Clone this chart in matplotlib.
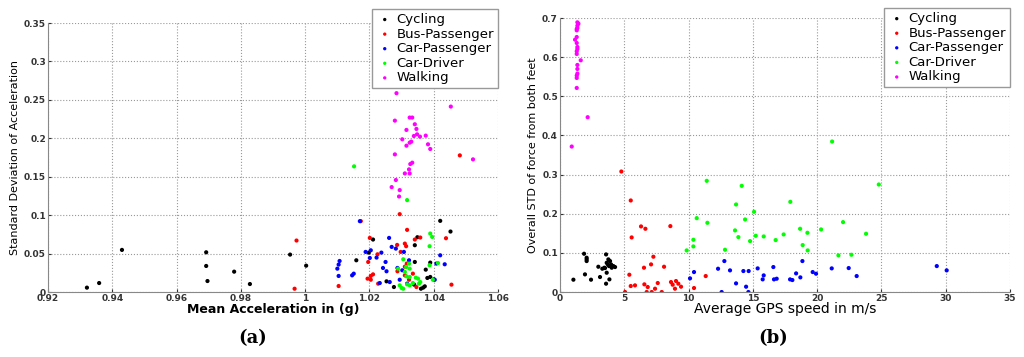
import numpy as np
import matplotlib
matplotlib.use('Agg')
import matplotlib.pyplot as plt

labels = ['Cycling', 'Bus-Passenger', 'Car-Passenger', 'Car-Driver', 'Walking']
colors = ['#000000', '#ff0000', '#0000ff', '#00ff00', '#ff00ff']

# ---- panel (a): mean acceleration vs std of acceleration
a_cyc_x = [0.9321, 0.9359, 0.943, 0.9692, 0.9692, 0.9696, 0.9779, 0.9828, 0.9953, 1.0003,
           1.0159, 1.0198, 1.0211, 1.0253, 1.0276, 1.0341, 1.0341, 1.0349, 1.0339, 1.036,
           1.0367, 1.0372, 1.0375, 1.038, 1.0389, 1.0389, 1.042, 1.0452, 1.04]
a_cyc_y = [0.0057, 0.0117, 0.0548, 0.0517, 0.0339, 0.0143, 0.0265, 0.0104, 0.0487, 0.0343,
           0.0413, 0.0513, 0.0683, 0.0139, 0.0065, 0.0391, 0.0609, 0.0713, 0.0096, 0.0043,
           0.0057, 0.0074, 0.0291, 0.0183, 0.0196, 0.0383, 0.0926, 0.0787, 0.0165]
a_bus_x = [0.9967, 0.9973, 1.0104, 1.0173, 1.0196, 1.0194, 1.0201, 1.0204, 1.0211, 1.0225,
           1.0227, 1.0204, 1.0286, 1.0294, 1.0297, 1.0287, 1.031, 1.0314, 1.0317, 1.031,
           1.031, 1.0323, 1.0335, 1.0341, 1.0358, 1.0346, 1.0438, 1.0455, 1.0481, 1.0316]
a_bus_y = [0.0043, 0.067, 0.0078, 0.0922, 0.0391, 0.0174, 0.0704, 0.0209, 0.023, 0.0491,
           0.0109, 0.016, 0.0613, 0.1013, 0.0522, 0.027, 0.063, 0.0596, 0.0809, 0.033,
           0.0217, 0.016, 0.0239, 0.0683, 0.0709, 0.0065, 0.07, 0.0096, 0.1778, 0.037]
a_carp_x = [1.01, 1.0107, 1.0104, 1.0104, 1.0146, 1.0151, 1.017, 1.0188, 1.0204, 1.0201,
            1.0222, 1.0237, 1.0232, 1.0242, 1.0253, 1.025, 1.0261, 1.0269, 1.0263, 1.0282,
            1.0287, 1.0294, 1.0302, 1.0307, 1.0323, 1.0317, 1.0408, 1.042, 1.0434, 1.0403]
a_carp_y = [0.0304, 0.0404, 0.0357, 0.0209, 0.0217, 0.0239, 0.0922, 0.0522, 0.0543, 0.0443,
            0.0448, 0.0513, 0.0117, 0.0313, 0.027, 0.0391, 0.0704, 0.0587, 0.013, 0.0565,
            0.0313, 0.016, 0.0283, 0.0522, 0.0413, 0.0109, 0.037, 0.0478, 0.0361, 0.016]
a_card_x = [1.0152, 1.0317, 1.0305, 1.0289, 1.0314, 1.0323, 1.0325, 1.031, 1.0315, 1.0325,
            1.0344, 1.0351, 1.0294, 1.03, 1.0305, 1.0317, 1.0325, 1.0335, 1.0354, 1.0358,
            1.0389, 1.0395, 1.0387, 1.0387, 1.0397, 1.0413]
a_card_y = [0.1635, 0.1196, 0.0426, 0.0304, 0.0326, 0.037, 0.0304, 0.0261, 0.0204, 0.0196,
            0.0187, 0.0174, 0.0087, 0.0052, 0.0043, 0.01, 0.0087, 0.0117, 0.0109, 0.013,
            0.0761, 0.0717, 0.0596, 0.0348, 0.016, 0.0378]
a_walk_x = [1.0284, 1.0279, 1.0279, 1.0282, 1.0269, 1.0294, 1.0292, 1.031, 1.0323, 1.0325,
            1.0327, 1.0333, 1.0302, 1.0315, 1.0315, 1.0325, 1.033, 1.0325, 1.0333, 1.0341,
            1.0346, 1.0348, 1.0338, 1.0357, 1.0375, 1.0382, 1.0389, 1.0425, 1.0453, 1.0522]
a_walk_y = [0.2587, 0.223, 0.1791, 0.1457, 0.1365, 0.1326, 0.1243, 0.1543, 0.1596, 0.1543,
            0.1665, 0.1683, 0.1987, 0.1904, 0.2109, 0.1943, 0.1957, 0.227, 0.227, 0.2183,
            0.2122, 0.2052, 0.203, 0.2022, 0.2035, 0.1922, 0.1861, 0.2717, 0.2413, 0.1726]

# ---- panel (b): GPS speed vs std of force
b_cyc_x = [1.04, 1.87, 1.94, 2.07, 2.07, 2.07, 2.41, 2.98, 3.11, 3.29, 3.5, 3.58, 3.63,
           3.58, 3.63, 3.76, 3.81, 3.89, 3.84, 3.97, 4.02, 4.15, 4.28, 3.45, 3.71]
b_cyc_y = [0.0315, 0.0978, 0.0451, 0.0876, 0.0834, 0.0791, 0.0315, 0.0646, 0.0383, 0.0595,
           0.0612, 0.0213, 0.0493, 0.0961, 0.0748, 0.0834, 0.0663, 0.0791, 0.0323, 0.0706,
           0.0621, 0.0663, 0.0638, 0.0621, 0.0706]
b_bus_x = [4.77, 5.5, 5.39, 5.5, 5.57, 5.06, 5.83, 6.3, 6.53, 6.56, 6.64, 6.82, 6.74, 7.08,
           7.13, 7.26, 7.39, 7.6, 7.91, 8.09, 8.58, 8.63, 8.76, 8.94, 9.02, 9.2, 9.41, 10.42, 11.33]
b_bus_y = [0.3079, 0.2339, 0.0442, 0.0153, 0.1395, 0.0, 0.017, 0.1676, 0.0621, 0.0196,
           0.1616, 0.0128, 0.0, 0.0706, 0.0, 0.0902, 0.0085, 0.023, 0.0, 0.0646, 0.1684,
           0.0255, 0.0187, 0.0085, 0.0281, 0.0213, 0.0136, 0.0102, 0.0408]
b_carp_x = [10.11, 10.42, 12.29, 12.57, 12.78, 13.22, 13.69, 14.26, 14.47, 14.67, 14.65,
            15.37, 15.76, 15.84, 16.59, 16.64, 16.85, 17.89, 18.07, 18.36, 18.69, 18.85,
            19.65, 19.91, 21.13, 22.45, 23.07, 29.3, 30.07]
b_carp_y = [0.0349, 0.051, 0.0595, 0.0, 0.0791, 0.0553, 0.0221, 0.0536, 0.0136, 0.0536, 0.0,
            0.0604, 0.0323, 0.0425, 0.0638, 0.0323, 0.034, 0.0323, 0.0306, 0.0476, 0.0374,
            0.0791, 0.051, 0.0468, 0.0604, 0.0612, 0.0408, 0.0663, 0.0553]
b_card_x = [9.85, 10.37, 10.37, 10.63, 11.41, 11.46, 12.83, 13.61, 13.69, 13.87, 14.13,
            14.39, 14.78, 15.09, 15.22, 15.84, 16.77, 17.39, 17.91, 18.67, 18.87, 19.24,
            19.26, 20.3, 21.16, 21.65, 22.01, 22.66, 23.8, 24.79]
b_card_y = [0.1063, 0.1335, 0.1165, 0.1888, 0.2841, 0.1769, 0.108, 0.1574, 0.2237, 0.1403,
            0.2713, 0.1854, 0.1301, 0.205, 0.1437, 0.142, 0.1327, 0.1471, 0.2305, 0.1616,
            0.1199, 0.1514, 0.1063, 0.1599, 0.3845, 0.0936, 0.1786, 0.0953, 0.1489, 0.2747]
b_walk_x = [0.91, 2.15, 1.3, 1.3, 1.3, 1.35, 1.35, 1.35, 1.61, 1.3, 1.3, 1.35, 1.35, 1.3,
            1.17, 1.3, 1.3, 1.35, 1.35, 1.43, 1.35, 1.3]
b_walk_y = [0.3717, 0.4466, 0.5214, 0.5469, 0.5529, 0.558, 0.5699, 0.5801, 0.592, 0.6082,
            0.615, 0.626, 0.621, 0.6362, 0.6447, 0.6515, 0.6685, 0.6745, 0.6805, 0.6856,
            0.689, 0.672]


def style_axes(ax):
    ax.grid(True, linestyle=':', color='#999999', linewidth=0.8)
    ax.set_axisbelow(True)
    for s in ['top', 'right']:
        ax.spines[s].set_visible(False)
    for s in ['left', 'bottom']:
        ax.spines[s].set_color('#888888')
    ax.tick_params(direction='in', length=2, colors='#333333', labelsize=6.5, pad=1.5)
    for t in ax.get_xticklabels() + ax.get_yticklabels():
        t.set_fontweight('bold')


fig = plt.figure(figsize=(10.24, 3.57), dpi=100)

ax1 = fig.add_axes([0.0469, 0.182, 0.4395, 0.7535])
ax2 = fig.add_axes([0.5469, 0.182, 0.4395, 0.7675])

sets_a = [(a_cyc_x, a_cyc_y), (a_bus_x, a_bus_y), (a_carp_x, a_carp_y),
          (a_card_x, a_card_y), (a_walk_x, a_walk_y)]
sets_b = [(b_cyc_x, b_cyc_y), (b_bus_x, b_bus_y), (b_carp_x, b_carp_y),
          (b_card_x, b_card_y), (b_walk_x, b_walk_y)]

for ax, sets, anchor in [(ax1, sets_a, (1.0, 1.052)), (ax2, sets_b, (1.0, 1.036))]:
    for (x, y), lab, c in zip(sets, labels, colors):
        ax.scatter(x, y, s=9, color=c, edgecolors='none', label=lab)
    leg = ax.legend(loc='upper right', bbox_to_anchor=anchor, fontsize=9.5,
                    frameon=True, fancybox=False, handletextpad=0.2, borderpad=0.3,
                    labelspacing=0.12, handlelength=1.4, borderaxespad=0.0,
                    markerscale=0.8, framealpha=1.0)
    leg.get_frame().set_edgecolor('#999999')
    leg.get_frame().set_linewidth(1.0)

ax1.set_xlim(0.92, 1.06)
ax1.set_ylim(0, 0.35)
ax1.set_xticks(np.arange(0.92, 1.061, 0.02))
ax1.set_xticklabels(['0.92', '0.94', '0.96', '0.98', '1', '1.02', '1.04', '1.06'])
ax1.set_yticks(np.arange(0, 0.351, 0.05))
ax1.set_yticklabels(['0', '0.05', '0.1', '0.15', '0.2', '0.25', '0.3', '0.35'])
style_axes(ax1)
ax1.set_xlabel('Mean Acceleration in (g)', fontsize=9, fontweight='bold', labelpad=0)
ax1.set_ylabel('Standard Deviation of Acceleration', fontsize=8, labelpad=3)

ax2.set_xlim(0, 35)
ax2.set_ylim(0, 0.7)
ax2.set_xticks(np.arange(0, 36, 5))
ax2.set_yticks(np.arange(0, 0.71, 0.1))
ax2.set_yticklabels(['0', '0.1', '0.2', '0.3', '0.4', '0.5', '0.6', '0.7'])
style_axes(ax2)
ax2.set_xlabel('Average GPS speed in m/s', fontsize=10, labelpad=-1)
ax2.set_ylabel('Overall STD of force from both feet', fontsize=8, labelpad=3)

fig.text(0.247, 0.053, '(a)', fontsize=13, fontweight='bold', family='DejaVu Serif',
         ha='center', va='center')
fig.text(0.755, 0.053, '(b)', fontsize=13, fontweight='bold', family='DejaVu Serif',
         ha='center', va='center')

fig.savefig('out.png', dpi=100)
